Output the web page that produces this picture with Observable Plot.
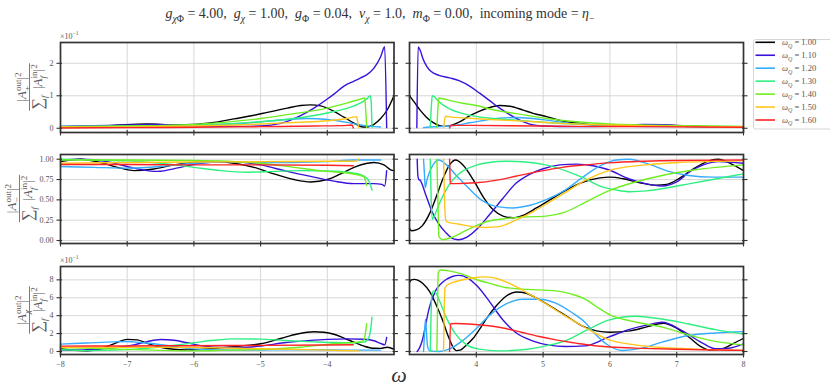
<!DOCTYPE html>
<html><head><meta charset="utf-8">
<script src="https://cdn.jsdelivr.net/npm/d3@7"></script>
<script src="https://cdn.jsdelivr.net/npm/@observablehq/plot@0.6"></script>
<style>
body{margin:0;background:#fff;}
#wrap{position:relative;width:830px;height:391px;overflow:hidden;background:#fff;}
#wrap svg{position:absolute;left:0;top:0;}
#wrap text{font-family:'Liberation Serif','DejaVu Serif',serif;}
</style></head><body><div id="wrap"></div>
<script>
// ---------------- data ----------------
const omegaQ = ["1.00","1.10","1.20","1.30","1.40","1.50","1.60"];
const lineColors = ["#000000","#3a12d9","#36acff","#2ef080","#70ee20","#ffc61a","#ff2323"];
const xTicksLeft = [-8,-7,-6,-5,-4];
const xTicksRight = [4,5,6,7,8];
const plusTicks = [0,1,2];
const minusTicks = [0,0.25,0.5,0.75,1];
const chiTicks = [0,2,4,6,8];
const titleText = "incoming mode";

// |A_+^out|^2 (x10^-1), omega < 0
const plusLeft = [
 [[-8,0.04],[-7.5,0.05],[-7.1,0.1],[-6.7,0.13],[-6.3,0.11],[-6.0,0.12],[-5.7,0.18],[-5.4,0.29],[-5.1,0.4],[-4.9,0.49],[-4.6,0.62],[-4.4,0.7],[-4.25,0.72],[-4.1,0.69],[-3.9,0.52],[-3.75,0.34],[-3.6,0.16],[-3.47,0.04],[-3.4,0.04],[-3.3,0.12],[-3.2,0.3],[-3.1,0.57],[-3.0,1.0]],
 [[-8,0.06],[-7.5,0.08],[-7,0.1],[-6.6,0.12],[-6.2,0.1],[-5.8,0.07],[-5.4,0.06],[-5.0,0.07],[-4.7,0.15],[-4.4,0.39],[-4.2,0.62],[-4.0,0.9],[-3.9,1.05],[-3.75,1.3],[-3.6,1.45],[-3.5,1.55],[-3.4,1.66],[-3.3,1.85],[-3.2,2.2],[-3.14,2.51],[-3.11,0.02]],
 [[-8,0.06],[-7,0.07],[-6,0.08],[-5.5,0.12],[-5,0.2],[-4.6,0.27],[-4.3,0.3],[-4.0,0.27],[-3.7,0.18],[-3.5,0.1],[-3.35,0.06],[-3.2,0.04]],
 [[-8,0.05],[-7,0.06],[-6,0.1],[-5,0.2],[-4.5,0.3],[-4,0.47],[-3.7,0.62],[-3.5,0.78],[-3.4,0.92],[-3.36,1.0],[-3.345,0.9],[-3.33,0.02]],
 [[-8,0.05],[-7,0.07],[-6,0.12],[-5,0.3],[-4.5,0.45],[-4,0.62],[-3.7,0.78],[-3.5,0.9],[-3.44,0.93],[-3.425,0.6],[-3.41,0.02]],
 [[-8,0.03],[-7,0.04],[-6,0.07],[-5,0.13],[-4.5,0.18],[-4,0.23],[-3.7,0.3],[-3.56,0.36],[-3.545,0.2],[-3.53,0.02]],
 [[-8,0.01],[-7,0.02],[-6,0.03],[-5,0.05],[-4.2,0.07],[-3.7,0.09],[-3.63,0.1],[-3.61,0.01]]
];
// |A_+^out|^2 (x10^-1), omega > 0
const plusRight = [
 [[3.0,1.0],[3.08,0.78],[3.15,0.58],[3.25,0.35],[3.35,0.18],[3.45,0.08],[3.52,0.06],[3.62,0.09],[3.75,0.2],[3.9,0.38],[4.05,0.53],[4.2,0.64],[4.35,0.7],[4.5,0.68],[4.7,0.56],[4.85,0.46],[5.05,0.36],[5.3,0.22],[5.55,0.15],[5.8,0.1],[6.2,0.08],[6.6,0.1],[7.0,0.09],[7.5,0.05],[8,0.04]],
 [[3.11,0.02],[3.13,2.5],[3.16,2.4],[3.2,2.15],[3.26,1.9],[3.33,1.74],[3.44,1.63],[3.6,1.55],[3.75,1.46],[3.9,1.3],[4.05,1.08],[4.2,0.85],[4.35,0.62],[4.5,0.42],[4.65,0.25],[4.8,0.13],[5.0,0.07],[5.5,0.05],[6.0,0.06],[6.5,0.12],[6.8,0.11],[7.2,0.05],[8,0.03]],
 [[3.21,0.02],[3.3,0.04],[3.45,0.05],[3.6,0.07],[3.75,0.11],[3.9,0.17],[4.05,0.22],[4.3,0.3],[4.6,0.33],[4.8,0.31],[5.05,0.25],[5.4,0.15],[6,0.08],[7,0.05],[8,0.05]],
 [[3.31,0.02],[3.325,0.6],[3.34,1.0],[3.37,0.97],[3.42,0.86],[3.5,0.72],[3.6,0.6],[3.75,0.48],[3.95,0.38],[4.25,0.3],[4.6,0.25],[5.05,0.18],[5.5,0.13],[6,0.1],[7,0.07],[8,0.05]],
 [[3.41,0.02],[3.425,0.6],[3.44,0.93],[3.5,0.91],[3.6,0.86],[3.8,0.77],[4.0,0.7],[4.25,0.57],[4.6,0.45],[5.05,0.3],[5.5,0.2],[6,0.13],[7,0.08],[8,0.06]],
 [[3.51,0.02],[3.525,0.25],[3.54,0.37],[3.6,0.35],[3.8,0.32],[4.2,0.27],[4.7,0.22],[5.2,0.16],[6,0.1],[7,0.06],[8,0.04]],
 [[3.6,0.01],[3.62,0.09],[3.8,0.09],[4.5,0.08],[5.5,0.06],[6.5,0.05],[8,0.03]]
];
// |A_-^out|^2, omega < 0
const minusLeft = [
 [[-8,0.97],[-7.7,1.0],[-7.4,0.96],[-7.1,0.89],[-6.9,0.86],[-6.6,0.88],[-6.3,0.93],[-6.0,0.96],[-5.65,0.97],[-5.4,0.95],[-5.1,0.9],[-4.8,0.82],[-4.5,0.75],[-4.25,0.72],[-4.0,0.75],[-3.8,0.82],[-3.6,0.9],[-3.4,0.95],[-3.3,0.96],[-3.15,0.93],[-3.05,0.87],[-3.0,0.86]],
 [[-8,0.99],[-7.7,1.0],[-7.3,0.97],[-6.9,0.89],[-6.55,0.85],[-6.2,0.9],[-5.9,0.95],[-5.5,0.97],[-5.0,0.93],[-4.6,0.85],[-4.2,0.78],[-3.9,0.73],[-3.6,0.7],[-3.3,0.7],[-3.18,0.69],[-3.14,0.67],[-3.11,0.86]],
 [[-8,0.91],[-7.5,0.9],[-7,0.89],[-6.5,0.91],[-6,0.95],[-5.5,0.97],[-5,0.96],[-4.5,0.96],[-4,0.97],[-3.6,0.99],[-3.2,0.99]],
 [[-8,1.0],[-7.5,0.99],[-7,0.98],[-6.5,0.95],[-6,0.9],[-5.6,0.86],[-5.2,0.84],[-4.8,0.85],[-4.4,0.86],[-4,0.855],[-3.7,0.84],[-3.5,0.81],[-3.4,0.76],[-3.35,0.68],[-3.33,0.62]],
 [[-8,0.99],[-7,0.99],[-6,0.985],[-5.5,0.975],[-5,0.95],[-4.5,0.9],[-4,0.85],[-3.7,0.83],[-3.5,0.8],[-3.45,0.78],[-3.41,0.68]],
 [[-8,0.95],[-7,0.96],[-6,0.965],[-5,0.97],[-4,0.975],[-3.6,0.975],[-3.55,0.98],[-3.53,1.0]],
 [[-8,0.935],[-7,0.935],[-6,0.93],[-5,0.93],[-4,0.925],[-3.61,0.92]]
];
// |A_-^out|^2, omega > 0
const minusRight = [
 [[3.0,0.15],[3.03,0.12],[3.1,0.13],[3.19,0.18],[3.3,0.33],[3.41,0.56],[3.5,0.76],[3.6,0.93],[3.69,0.99],[3.8,0.93],[3.96,0.74],[4.1,0.54],[4.25,0.38],[4.4,0.3],[4.55,0.28],[4.7,0.31],[4.9,0.4],[5.1,0.5],[5.35,0.62],[5.6,0.72],[5.85,0.77],[6.0,0.78],[6.2,0.76],[6.45,0.71],[6.7,0.68],[6.85,0.69],[7.05,0.77],[7.25,0.88],[7.45,0.97],[7.62,1.0],[7.8,0.95],[8.0,0.86]],
 [[3.115,1.0],[3.125,0.8],[3.14,0.75],[3.16,0.74],[3.24,0.57],[3.34,0.35],[3.44,0.2],[3.54,0.1],[3.66,0.02],[3.74,0.01],[3.86,0.04],[4.01,0.14],[4.19,0.31],[4.39,0.51],[4.59,0.7],[4.79,0.81],[4.99,0.88],[5.25,0.93],[5.5,0.94],[5.75,0.92],[5.98,0.87],[6.28,0.76],[6.53,0.7],[6.78,0.67],[7.0,0.72],[7.2,0.85],[7.4,0.93],[7.63,0.97],[8.0,0.95]],
 [[3.21,1.0],[3.225,0.8],[3.235,0.65],[3.26,0.74],[3.29,0.82],[3.36,0.94],[3.44,0.99],[3.54,0.94],[3.69,0.81],[3.89,0.64],[4.09,0.49],[4.29,0.42],[4.54,0.4],[4.79,0.43],[5.04,0.5],[5.33,0.62],[5.58,0.77],[5.88,0.93],[6.1,0.99],[6.28,1.0],[6.58,0.94],[6.88,0.85],[7.18,0.8],[7.53,0.78],[8.0,0.78]],
 [[3.31,1.0],[3.325,0.5],[3.34,0.26],[3.37,0.3],[3.44,0.44],[3.59,0.68],[3.74,0.82],[3.94,0.91],[4.19,0.96],[4.44,0.975],[4.74,0.965],[5.04,0.93],[5.33,0.86],[5.63,0.76],[5.85,0.67],[6.1,0.62],[6.3,0.6],[6.55,0.61],[6.8,0.64],[7.2,0.7],[7.6,0.76],[8.0,0.82]],
 [[3.41,1.0],[3.425,0.5],[3.44,0.05],[3.49,0.01],[3.64,0.04],[3.79,0.1],[3.99,0.18],[4.19,0.24],[4.44,0.27],[4.74,0.29],[5.04,0.3],[5.33,0.35],[5.63,0.47],[5.98,0.61],[6.38,0.72],[6.78,0.8],[7.28,0.87],[8.0,0.93]],
 [[3.51,1.0],[3.525,0.5],[3.54,0.26],[3.56,0.23],[3.74,0.2],[3.94,0.17],[4.14,0.16],[4.34,0.17],[4.59,0.25],[4.84,0.35],[5.09,0.47],[5.33,0.59],[5.63,0.74],[5.98,0.86],[6.53,0.93],[7.03,0.96],[8.0,0.98]],
 [[3.6,1.0],[3.605,0.85],[3.61,0.7],[3.7,0.7],[3.99,0.71],[4.29,0.74],[4.59,0.79],[4.94,0.85],[5.29,0.9],[5.63,0.93],[5.98,0.955],[6.5,0.975],[7,0.985],[8,0.99]]
];
// |A_chi^out|^2 (x10^-1), omega < 0
const chiLeft = [
 [[-8,0.3],[-7.8,0.12],[-7.6,0.08],[-7.4,0.3],[-7.2,0.85],[-7.0,1.35],[-6.85,1.3],[-6.7,0.9],[-6.5,0.48],[-6.3,0.25],[-6.1,0.18],[-5.9,0.22],[-5.6,0.4],[-5.3,0.62],[-5.0,0.86],[-4.7,1.45],[-4.45,1.95],[-4.2,2.2],[-4.05,2.15],[-3.9,1.93],[-3.75,1.5],[-3.6,1.04],[-3.45,0.6],[-3.3,0.36],[-3.2,0.35],[-3.1,0.48],[-3.0,0.25]],
 [[-8,0.15],[-7.6,0.2],[-7.2,0.4],[-6.9,0.74],[-6.7,1.1],[-6.5,1.34],[-6.3,1.25],[-6.1,0.97],[-5.85,0.6],[-5.6,0.45],[-5.3,0.45],[-5.0,0.6],[-4.65,0.97],[-4.3,1.2],[-4.0,1.35],[-3.7,1.41],[-3.45,1.36],[-3.3,1.2],[-3.2,0.9],[-3.14,0.74],[-3.11,1.56]],
 [[-8,0.82],[-7.6,0.95],[-7.2,1.08],[-7.0,1.12],[-6.8,1.0],[-6.4,0.67],[-6.1,0.35],[-5.8,0.2],[-5.4,0.15],[-4.8,0.2],[-4.2,0.2],[-3.6,0.15],[-3.2,0.15]],
 [[-8,0.19],[-7.6,0.1],[-7.2,0.15],[-6.8,0.3],[-6.4,0.6],[-6.0,0.97],[-5.7,1.25],[-5.4,1.41],[-5.0,1.38],[-4.65,1.23],[-4.2,1.08],[-3.9,1.0],[-3.6,0.97],[-3.45,1.05],[-3.38,1.5],[-3.35,2.5],[-3.33,3.83]],
 [[-8,0.45],[-7.3,0.3],[-6.6,0.15],[-6.0,0.07],[-5.5,0.15],[-5.0,0.22],[-4.4,0.48],[-3.9,0.86],[-3.5,1.1],[-3.45,1.3],[-3.43,2.0],[-3.41,3.09]],
 [[-8,0.45],[-7,0.47],[-6,0.45],[-5,0.3],[-4,0.15],[-3.53,0.07]],
 [[-8,0.6],[-7,0.62],[-6,0.65],[-5,0.68],[-4,0.72],[-3.61,0.75]]
];
// |A_chi^out|^2 (x10^-1), omega > 0
const chiRight = [
 [[3.0,7.7],[3.03,8.0],[3.07,8.05],[3.13,7.95],[3.2,7.6],[3.3,6.7],[3.4,5.2],[3.49,3.6],[3.58,1.7],[3.65,0.5],[3.7,0.1],[3.76,0.15],[3.85,0.7],[3.95,1.45],[4.05,2.5],[4.15,3.65],[4.3,5.1],[4.45,6.2],[4.6,6.65],[4.75,6.5],[4.9,5.95],[5.1,5.1],[5.35,3.95],[5.6,2.8],[5.8,2.3],[6.0,2.15],[6.3,2.3],[6.55,2.75],[6.8,3.15],[7.0,2.6],[7.2,1.5],[7.35,0.6],[7.5,0.15],[7.7,0.35],[7.85,0.9],[8.0,1.48]],
 [[3.115,0.0],[3.15,0.4],[3.19,1.2],[3.24,2.9],[3.29,4.7],[3.39,6.77],[3.49,7.7],[3.64,8.37],[3.74,8.5],[3.86,8.26],[4.01,7.33],[4.19,5.66],[4.39,3.6],[4.59,2.12],[4.84,1.19],[5.09,0.71],[5.33,0.56],[5.63,0.63],[5.98,1.6],[6.28,2.44],[6.58,3.0],[6.78,3.26],[7.08,2.33],[7.38,0.96],[7.58,0.3],[7.78,0.37],[8.0,0.85]],
 [[3.21,0.0],[3.225,2.0],[3.24,3.6],[3.255,2.0],[3.27,0.6],[3.3,0.1],[3.44,0.0],[3.59,0.26],[3.79,1.19],[3.99,2.49],[4.19,3.98],[4.44,5.28],[4.69,5.84],[4.94,5.84],[5.19,5.4],[5.43,4.35],[5.63,3.24],[5.78,1.96],[5.98,0.67],[6.18,0.11],[6.48,0.37],[6.78,1.04],[7.18,1.78],[7.58,2.07],[8.0,2.22]],
 [[3.31,0.0],[3.32,3.0],[3.33,6.0],[3.36,6.77],[3.39,6.6],[3.44,5.84],[3.54,3.98],[3.69,1.93],[3.84,0.82],[4.04,0.26],[4.34,0.07],[4.69,0.19],[5.04,0.63],[5.33,1.19],[5.63,2.3],[5.98,3.5],[6.2,3.85],[6.38,3.93],[6.6,3.8],[6.78,3.63],[7.18,3.07],[7.58,2.44],[8.0,1.96]],
 [[3.41,0.0],[3.42,5.0],[3.43,8.8],[3.46,9.1],[3.59,9.0],[3.79,8.63],[3.99,8.07],[4.19,7.63],[4.44,7.14],[4.69,6.96],[4.94,6.88],[5.19,6.77],[5.43,6.4],[5.63,5.84],[5.8,5.0],[6.0,4.1],[6.2,3.6],[6.4,3.26],[6.8,2.7],[7.2,1.8],[7.6,1.1],[8.0,0.74]],
 [[3.51,0.0],[3.53,7.0],[3.56,7.4],[3.74,7.9],[3.94,8.2],[4.14,8.33],[4.34,8.07],[4.59,7.26],[4.84,6.2],[5.09,5.1],[5.33,3.98],[5.63,2.68],[5.98,1.33],[6.38,0.74],[6.78,0.44],[7.28,0.26],[8.0,0.15]],
 [[3.6,0.0],[3.615,3.1],[3.69,3.12],[3.94,3.05],[4.19,2.87],[4.44,2.57],[4.69,2.12],[4.94,1.67],[5.19,1.3],[5.43,1.0],[5.63,0.78],[6.0,0.5],[6.5,0.35],[7,0.25],[8,0.12]]
];

// ---------------- layout ----------------
const FONT = "'Liberation Serif','DejaVu Serif',serif";
const COLS = [{l: 60, r: 393.5}, {l: 409, r: 743}];
const ROWS = [{t: 42, b: 132}, {t: 154, b: 243}, {t: 266, b: 354}];
const xDomains = [[-8, -3], [3, 8]];
const yDomains = [[-0.13, 2.64], [-0.037, 1.058], [-0.335, 9.49]];
const yTickSets = [plusTicks, minusTicks, chiTicks];
const yFormats = [d3.format("d"), d3.format(".2f"), d3.format("d")];
const panelData = [[plusLeft, plusRight], [minusLeft, minusRight], [chiLeft, chiRight]];

const wrap = document.getElementById("wrap");

function makePanel(row, col) {
  const data = panelData[row][col];
  const rows = data.flatMap((pts, i) => pts.map(([w, v]) => ({series: omegaQ[i], w, v})));
  const c = COLS[col], r = ROWS[row];
  const xt = col === 0 ? xTicksLeft : xTicksRight;
  const yt = yTickSets[row];
  const tick = {color: "#333", strokeWidth: 1.1, label: null, tickFormat: () => ""};
  const marks = [
    Plot.gridX(xt, {stroke: "#d2d2d2", strokeOpacity: 1, strokeWidth: 0.9}),
    Plot.gridY(yt, {stroke: "#d2d2d2", strokeOpacity: 1, strokeWidth: 0.9}),
    Plot.line(rows, {x: "w", y: "v", z: "series", stroke: "series", strokeWidth: 1.4, curve: "monotone-x"}),
    Plot.frame({stroke: "#333", strokeWidth: 1.7}),
    Plot.axisY(yt, {anchor: "left", tickSize: 5.5, dx: 2, ...tick}),
    Plot.axisY(yt, {anchor: "right", tickSize: 5.5, dx: -2, ...tick}),
    Plot.axisX(xt, {anchor: "bottom", tickSize: 5.5, dy: -2, ...tick})
  ];
  if (col === 0) marks.push(Plot.axisY(yt, {anchor: "left", tickSize: 0, tickPadding: 7, tickFormat: yFormats[row], label: null, color: "#555", fontSize: 8}));
  if (row === 2) marks.push(Plot.axisX(xt, {anchor: "bottom", tickSize: 0, tickPadding: 7, tickFormat: d3.format("d"), label: null, color: "#555", fontSize: 8}));
  return Plot.plot({
    width: 830, height: 391,
    marginLeft: c.l, marginRight: 830 - c.r, marginTop: r.t, marginBottom: 391 - r.b,
    x: {domain: xDomains[col], label: null},
    y: {domain: yDomains[row], label: null},
    color: {domain: omegaQ, range: lineColors},
    style: {background: "transparent", fontFamily: FONT, fontSize: "8px", overflow: "visible"},
    marks
  });
}
for (let row = 0; row < 3; row++) for (let col = 0; col < 2; col++) wrap.appendChild(makePanel(row, col));

// ---------------- text overlay ----------------
const svg = d3.select(wrap).append("svg").attr("width", 830).attr("height", 391)
  .attr("font-family", FONT).style("font-family", FONT);

function mathRun(g, parts, size, color) {
  let x = 0;
  const put = (t, px, py, fs, it) => {
    const el = g.append("text").attr("x", px).attr("y", py).attr("font-size", fs)
      .attr("font-style", it ? "italic" : "normal").attr("fill", color)
      .style("font-family", FONT)
      .text(t.replace(/ /g, "\u00a0"));
    return el.node().getComputedTextLength();
  };
  for (const p of parts) {
    if (p.stack) {
      let w = 0;
      for (const s of p.stack) w = Math.max(w, put(s.t, x, (s.dy || 0) * size, size * (s.k || 0.7), s.it));
      x += w;
    } else {
      x += put(p.t, x, (p.dy || 0) * size, size * (p.k || 1), p.it);
    }
  }
  return x;
}
const sub = (t, it) => ({t, it, dy: 0.28, k: 0.7});
const sup = (t, it) => ({t, it, dy: -0.4, k: 0.7});

// title
{
  const g = svg.append("g");
  const parts = [
    {t: "g", it: 1}, sub("χ", 1), sub("Φ"), {t: " = 4.00,  "},
    {t: "g", it: 1}, sub("χ", 1), {t: " = 1.00,  "},
    {t: "g", it: 1}, sub("Φ"), {t: " = 0.04,  "},
    {t: "v", it: 1}, sub("χ", 1), {t: " = 1.0,  "},
    {t: "m", it: 1}, sub("Φ"), {t: " = 0.00,  "},
    {t: titleText + " = "}, {t: "η", it: 1}, sub("−")
  ];
  const w = mathRun(g, parts, 14, "#333");
  g.attr("transform", `translate(${380 - w / 2},18)`);
}

// y labels (fractions)
function yLabel(cx, cy, symbol) {
  const g = svg.append("g").attr("transform", `translate(${cx},${cy}) rotate(-90)`);
  const size = 13, color = "#5a5a5a";
  const gn = g.append("g");
  const wn = mathRun(gn, [{t: "|"}, {t: "A", it: 1}, {stack: [{t: "out", dy: -0.42}, {t: symbol.t, it: symbol.it, dy: 0.3}]}, {t: "|"}, sup("2")], size, color);
  gn.attr("transform", `translate(${-wn / 2},-3.5)`);
  const gd = g.append("g");
  const wd = mathRun(gd, [{t: "∑", k: 1.25, dy: 0.05}, {t: "f", it: 1, dy: 0.4, k: 0.7}, {t: "  |"}, {t: "A", it: 1}, {stack: [{t: "in", dy: -0.42}, {t: "f", it: 1, dy: 0.3}]}, {t: "|"}, sup("2")], size, color);
  gd.attr("transform", `translate(${-wd / 2},12.5)`);
  const wb = Math.max(wn, wd) + 2;
  g.append("line").attr("x1", -wb / 2).attr("x2", wb / 2).attr("y1", 0).attr("y2", 0)
    .attr("stroke", color).attr("stroke-width", 0.8);
}
yLabel(29.5, (ROWS[0].t + ROWS[0].b) / 2, {t: "+"});
yLabel(19.5, (ROWS[1].t + ROWS[1].b) / 2, {t: "−"});
yLabel(29.5, (ROWS[2].t + ROWS[2].b) / 2, {t: "χ", it: 1});

// x10^-1 multipliers
for (const row of [0, 2]) {
  const g = svg.append("g").attr("transform", `translate(${COLS[0].l},${ROWS[row].t - 3.5})`);
  mathRun(g, [{t: "×10"}, sup("−1")], 8, "#555");
}

// x label
svg.append("text").attr("x", 399).attr("y", 382).attr("text-anchor", "middle")
  .attr("font-size", 22).attr("font-style", "italic").attr("fill", "#333").text("ω");

// legend
{
  const lg = svg.append("g");
  lg.append("rect").attr("x", 753.5).attr("y", 39.5).attr("width", 80).attr("height", 89.5)
    .attr("rx", 2).attr("fill", "#fff").attr("stroke", "#cccccc").attr("stroke-width", 0.8);
  omegaQ.forEach((q, i) => {
    const y = 42.3 + i * 12.95;
    lg.append("line").attr("x1", 755.5).attr("x2", 775).attr("y1", y).attr("y2", y)
      .attr("stroke", lineColors[i]).attr("stroke-width", 1.6);
    const g = lg.append("g").attr("transform", `translate(782,${y + 3})`);
    mathRun(g, [{t: "ω", it: 1}, sub("Q", 1), {t: " = " + q}], 8.5, "#555");
  });
}
</script></body></html>
